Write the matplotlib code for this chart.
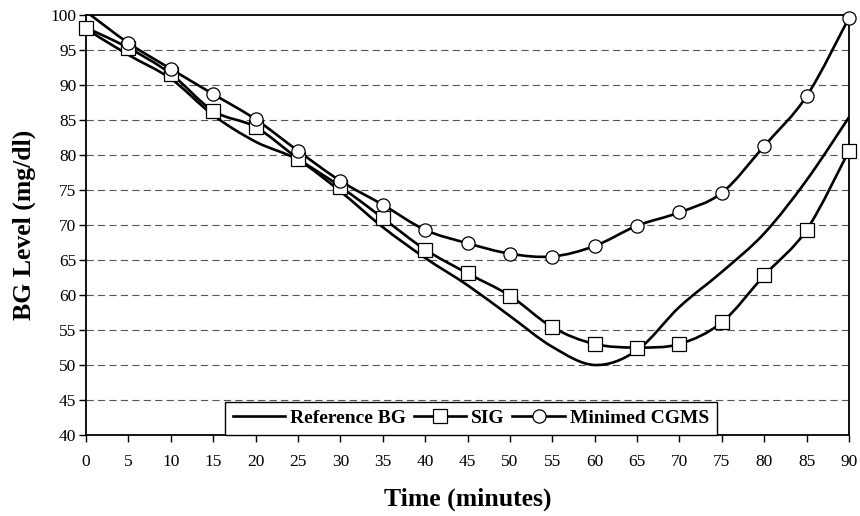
import matplotlib
matplotlib.use("Agg")
import matplotlib.pyplot as plt
import numpy as np
from matplotlib.path import Path
from matplotlib.patches import PathPatch
from matplotlib.lines import Line2D

# ---- data ----
time_min = [0, 5, 10, 15, 20, 25, 30, 35, 40, 45, 50, 55, 60, 65, 70, 75, 80, 85, 90]
reference_bg = [98.0, 94.3, 90.9, 85.7, 81.9, 79.3, 74.8, 69.7, 65.3, 61.4, 57.0, 52.6,
                50.0, 52.1, 58.3, 63.3, 68.8, 76.4, 85.4]
sig = [98.2, 95.3, 91.6, 86.3, 84.0, 79.5, 75.5, 71.0, 66.5, 63.1, 59.9, 55.4,
       53.0, 52.5, 53.0, 56.1, 62.8, 69.3, 80.6]
cgms = [100.5, 96.0, 92.3, 88.7, 85.1, 80.6, 76.3, 72.9, 69.3, 67.4, 65.9, 65.5,
        67.0, 69.9, 71.8, 74.6, 81.3, 88.4, 99.6]
series_names = ["Reference BG", "SIG", "Minimed CGMS"]
y_ticks = list(range(40, 101, 5))
x_ticks = list(range(0, 91, 5))

plt.rcParams['font.family'] = ['Liberation Serif', 'DejaVu Serif']

fig = plt.figure(figsize=(8.6, 5.16), dpi=100)
ax = fig.add_axes([86/860, 1-435/516, (849-86)/860, (435-15)/516])


def smooth_path(xs, ys):
    x = np.asarray(xs, float)
    y = np.asarray(ys, float)
    pts = np.column_stack([x, y])
    n = len(pts)
    verts = [pts[0]]
    codes = [Path.MOVETO]
    for i in range(n - 1):
        p0 = pts[i - 1] if i > 0 else pts[i]
        p1 = pts[i]
        p2 = pts[i + 1]
        p3 = pts[i + 2] if i + 2 < n else pts[i + 1]
        c1 = p1 + (p2 - p0) / 6.0
        c2 = p2 - (p3 - p1) / 6.0
        verts += [c1, c2, p2]
        codes += [Path.CURVE4] * 3
    return Path(verts, codes)


LW = 1.9
for ys in (reference_bg, sig, cgms):
    patch = PathPatch(smooth_path(time_min, ys), facecolor='none', edgecolor='black',
                      lw=LW, zorder=3, capstyle='butt', joinstyle='round')
    ax.add_patch(patch)

ax.plot(time_min, sig, linestyle='none', marker='s', markersize=10,
        markerfacecolor='white', markeredgecolor='black', markeredgewidth=0.9, zorder=4, clip_on=False)
ax.plot(time_min[1:], cgms[1:], linestyle='none', marker='o', markersize=9.5,
        markerfacecolor='white', markeredgecolor='black', markeredgewidth=0.9, zorder=5, clip_on=False)

ax.set_xlim(0, 90)
ax.set_ylim(40, 100)
ax.set_xticks(x_ticks)
ax.set_yticks(y_ticks)
ax.tick_params(axis='both', direction='out', length=5, width=1, labelsize=12.5, colors='black')
ax.tick_params(axis='x', pad=9)
ax.tick_params(axis='y', pad=2)

for yv in y_ticks[1:-1]:
    ax.axhline(yv, color='#555555', lw=0.8, dashes=(6.5, 3.8), zorder=1)

for s in ax.spines.values():
    s.set_linewidth(1.3)
    s.set_color('black')

ax.set_xlabel("Time (minutes)", fontsize=18.5, fontweight='bold', labelpad=12)
ax.set_ylabel("BG Level (mg/dl)", fontsize=18.5, fontweight='bold', labelpad=10)

handles = [
    Line2D([], [], color='black', lw=LW),
    Line2D([], [], color='black', lw=LW, marker='s', markersize=10,
           markerfacecolor='white', markeredgecolor='black', markeredgewidth=0.9),
    Line2D([], [], color='black', lw=LW, marker='o', markersize=9.5,
           markerfacecolor='white', markeredgecolor='black', markeredgewidth=0.9),
]
leg = ax.legend(handles, series_names, loc='lower left', bbox_to_anchor=(0.182, 0.0),
                ncol=3, frameon=True, fancybox=False, edgecolor='black', framealpha=1,
                borderaxespad=0, handlelength=2.7, handletextpad=0.25, columnspacing=0.4,
                prop={'weight': 'bold', 'size': 14}, borderpad=0.4)
leg.get_frame().set_linewidth(1.0)
leg.set_zorder(6)

fig.savefig("out.png", dpi=100)
